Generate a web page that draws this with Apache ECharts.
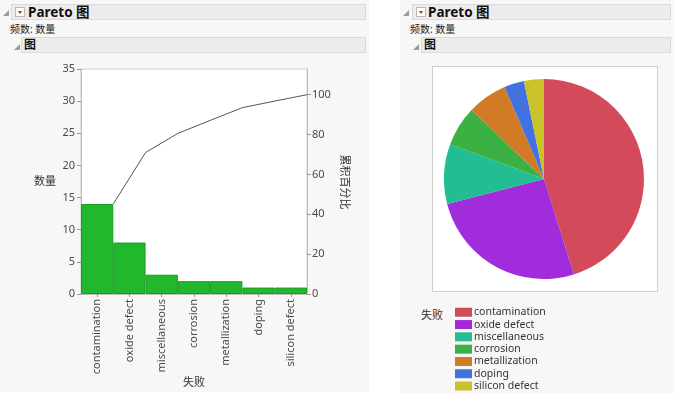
<!DOCTYPE html>
<html>
<head>
<meta charset="utf-8">
<script src="https://cdn.jsdelivr.net/npm/echarts@6/dist/echarts.min.js"></script>
<style>
  body { margin: 0; background: #fff; font-family: 'Noto Sans', 'Noto Sans CJK SC', sans-serif; }
  .page { position: relative; width: 700px; height: 396px; overflow: hidden; }
  .panel { position: absolute; top: 0; background: #f7f7f7; }
  .bar { position: absolute; height: 16px; background: #ececec; border: 1px solid #dadada; box-sizing: border-box; }
  .tri { position: absolute; width: 0; height: 0; border-left: 6px solid transparent; border-bottom: 6px solid #9a9a9a; }
  .btn { position: absolute; width: 10px; height: 10px; background: #fff; border: 1px solid #bbb; box-sizing: border-box; }
  .btn:after { content: ''; position: absolute; left: 2px; top: 3px; border-left: 2.5px solid transparent; border-right: 2.5px solid transparent; border-top: 3px solid #d42020; }
  .txt { position: absolute; white-space: nowrap; color: #111; }
  .h1 { font-size: 13.5px; font-weight: bold; line-height: 16px; }
  .h2 { font-size: 12px; font-weight: bold; line-height: 15px; }
  .sub { font-size: 10px; line-height: 12px; color: #222; }
  .frame { position: absolute; background: #fff; border: 1px solid #cfcfcf; box-sizing: border-box; }
  #chart { position: absolute; left: 0; top: 0; width: 700px; height: 396px; }
</style>
</head>
<body>
<div class="page">
  <div class="panel" style="left:0;width:369px;height:392px"></div>
  <div class="panel" style="left:400px;width:274px;height:393px"></div>

  <!-- left panel header -->
  <div class="tri" style="left:3px;top:10px"></div>
  <div class="bar" style="left:11px;top:4px;width:355px"></div>
  <div class="btn" style="left:15px;top:7px"></div>
  <div class="txt h1" style="left:28px;top:4px">Pareto 图</div>
  <div class="txt sub" style="left:10px;top:23px">频数: 数量</div>
  <div class="tri" style="left:14px;top:44px"></div>
  <div class="bar" style="left:21px;top:37px;width:345px"></div>
  <div class="txt h2" style="left:24px;top:37px">图</div>

  <!-- right panel header -->
  <div class="tri" style="left:403px;top:10px"></div>
  <div class="bar" style="left:412px;top:4px;width:259px"></div>
  <div class="btn" style="left:416px;top:7px"></div>
  <div class="txt h1" style="left:428px;top:4px">Pareto 图</div>
  <div class="txt sub" style="left:410px;top:23px">频数: 数量</div>
  <div class="tri" style="left:413px;top:44px"></div>
  <div class="bar" style="left:421px;top:37px;width:250px"></div>
  <div class="txt h2" style="left:424px;top:37px">图</div>

  <div class="frame" style="left:432px;top:66px;width:226px;height:226px"></div>
  <div class="txt sub" style="left:421px;top:309px;font-size:11px;color:#333">失败</div>

  <div id="chart"></div>
</div>
<script>
// 失败类别与计数
const categories = ['contamination', 'oxide defect', 'miscellaneous', 'corrosion', 'metallization', 'doping', 'silicon defect']
const counts = [14, 8, 3, 2, 2, 1, 1]
const cumPercent = [45.2, 71.0, 80.6, 87.1, 93.5, 96.8, 100]
const countTicks = [0, 5, 10, 15, 20, 25, 30, 35]
const percentTicks = [0, 20, 40, 60, 80, 100]
const pieColors = ['#d34a5b', '#a02cdc', '#22bd92', '#3bb143', '#d27b26', '#4271e0', '#c9c228']

const total = counts.reduce((a, b) => a + b, 0)
const font = "'Noto Sans', 'Noto Sans CJK SC', sans-serif"
const labelStyle = { color: '#4a4a4a', fontSize: 11, fontFamily: font }

const myChart = echarts.init(document.getElementById('chart'), null, { renderer: 'canvas' })
myChart.setOption({
  animation: false,
  backgroundColor: 'transparent',
  grid: {
    left: 81,
    top: 69,
    width: 226,
    height: 225,
    show: true,
    backgroundColor: '#fff',
    borderColor: '#cccccc',
    borderWidth: 1
  },
  xAxis: [
    {
      type: 'category',
      data: categories,
      boundaryGap: true,
      axisLine: { show: true, lineStyle: { color: '#bdbdbd' } },
      axisTick: { show: true, alignWithLabel: true, length: 3, lineStyle: { color: '#999' } },
      axisLabel: Object.assign({ rotate: 90, interval: 0, margin: 5 }, labelStyle),
      splitLine: { show: false }
    },
    {
      type: 'value',
      min: 0,
      max: categories.length,
      show: false
    }
  ],
  yAxis: [
    {
      type: 'value',
      min: 0,
      max: countTicks[countTicks.length - 1],
      interval: 5,
      axisLine: { show: true, lineStyle: { color: '#bdbdbd' } },
      axisTick: { show: true, length: 4, lineStyle: { color: '#999' } },
      axisLabel: Object.assign({ margin: 6 }, labelStyle),
      splitLine: { show: false }
    },
    {
      type: 'value',
      position: 'right',
      min: 0,
      max: countTicks[countTicks.length - 1] / total * 100,
      axisLine: { show: true, lineStyle: { color: '#bdbdbd' } },
      axisTick: { show: true, length: 4, customValues: percentTicks, lineStyle: { color: '#999' } },
      axisLabel: Object.assign({ margin: 5, customValues: percentTicks }, labelStyle),
      splitLine: { show: false }
    }
  ],
  legend: {
    orient: 'vertical',
    left: 455,
    top: 307,
    height: 110,
    padding: 0,
    data: categories,
    icon: 'rect',
    itemWidth: 17,
    itemHeight: 9,
    itemGap: 1.8,
    textStyle: { color: '#333', fontSize: 10.5, fontFamily: font, padding: [0, 0, 0, -3] }
  },
  graphic: [
    {
      type: 'text',
      x: 45,
      y: 182,
      style: { text: '数量', fill: '#333', fontSize: 11, fontFamily: font, align: 'center', verticalAlign: 'middle' }
    },
    {
      type: 'text',
      x: 344,
      y: 182,
      rotation: -Math.PI / 2,
      style: { text: '累积百分比', fill: '#333', fontSize: 11, fontFamily: font, align: 'center', verticalAlign: 'middle' }
    },
    {
      type: 'text',
      x: 194,
      y: 383,
      style: { text: '失败', fill: '#333', fontSize: 11, fontFamily: font, align: 'center', verticalAlign: 'middle' }
    }
  ],
  series: [
    {
      name: '数量',
      type: 'bar',
      xAxisIndex: 0,
      yAxisIndex: 0,
      barCategoryGap: '0%',
      data: counts,
      itemStyle: { color: '#22b82d', borderColor: '#1b9a25', borderWidth: 1 }
    },
    {
      name: '累积百分比',
      type: 'line',
      xAxisIndex: 1,
      yAxisIndex: 1,
      symbol: 'none',
      data: cumPercent.map((v, i) => [i + 1, v]),
      lineStyle: { color: '#555', width: 1 }
    },
    {
      name: '失败',
      type: 'pie',
      center: [544, 179],
      radius: 100,
      startAngle: 90,
      clockwise: true,
      label: { show: false },
      labelLine: { show: false },
      data: categories.map((c, i) => ({ name: c, value: counts[i], itemStyle: { color: pieColors[i] } }))
    }
  ]
})
</script>
</body>
</html>
